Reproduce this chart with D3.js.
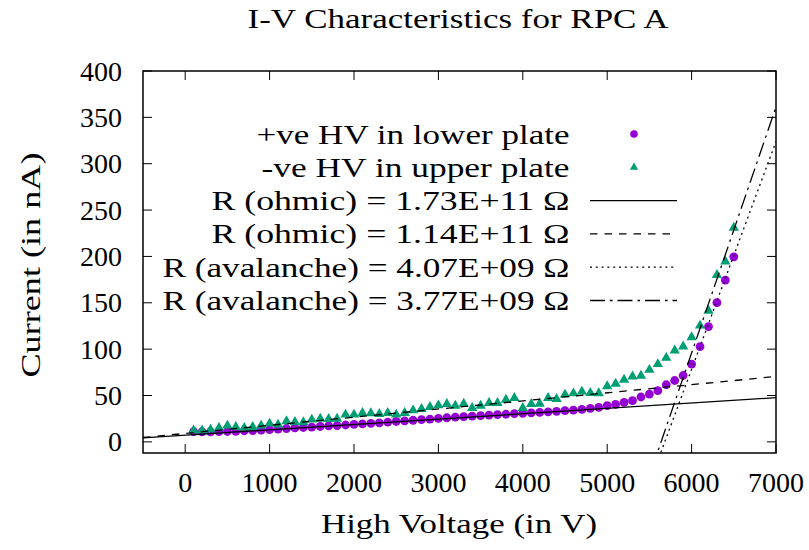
<!DOCTYPE html>
<html><head><meta charset="utf-8">
<script src="https://cdn.jsdelivr.net/npm/d3@7"></script>
<style>body{margin:0;background:#fff;}</style>
</head><body>
<svg id="chart" width="809" height="550"></svg>
<script>
// ---------- data ----------
const voltage = [100,200,300,400,500,600,700,800,900,1000,1100,1200,1300,1400,1500,1600,1700,1800,1900,2000,
  2100,2200,2300,2400,2500,2600,2700,2800,2900,3000,3100,3200,3300,3400,3500,3600,3700,3800,3900,4000,
  4100,4200,4300,4400,4500,4600,4700,4800,4900,5000,5100,5200,5300,5400,5500,5600,5700,5800,5900,6000,
  6100,6200,6300,6400,6500];
const posHVLower = [11.0,10.7,10.8,11.0,11.2,11.4,12.0,12.2,12.6,13.2,13.8,14.4,15.0,15.5,16.0,16.6,17.2,17.6,18.2,18.8,
  19.4,19.9,20.4,21.2,22.0,22.6,23.3,24.0,24.6,25.3,26.0,26.6,27.2,27.8,28.3,28.9,29.4,29.8,30.4,30.8,
  31.3,31.8,32.4,33.0,33.6,34.2,35.0,36.1,37.2,39.0,40.4,42.6,44.4,48.4,51.6,55.2,61.6,66.2,71.6,83.9,
  102.8,124.3,150.1,174.5,199.6];
const negHVUpper = [12.2,12.2,13.2,15.1,17.5,16.1,15.1,16.1,17.5,19.7,18.6,22.2,21.5,21.1,24.0,25.0,24.7,25.0,29.4,29.4,
  31.2,30.8,30.1,31.2,29.4,31.2,34.0,35.5,37.6,39.4,40.9,39.0,41.2,36.6,39.0,41.9,41.9,45.5,47.3,36.6,
  40.9,41.2,47.3,46.2,51.0,52.3,54.2,52.7,52.5,60.0,62.7,67.0,70.5,71.3,77.7,83.9,90.6,98.5,102.8,112.9,
  125.4,141.5,180.0,194.5,231.0];
const seriesLabels = ["+ve HV in lower plate", "-ve HV in upper plate"];
const fitLabels = ["R (ohmic) = 1.73E+11 Ω", "R (ohmic) = 1.14E+11 Ω",
                   "R (avalanche) = 4.07E+09 Ω", "R (avalanche) = 3.77E+09 Ω"];
const fitResistance = [1.73e11, 1.14e11, 4.07e9, 3.77e9];   // ohm
const fitIntercept = [7.2, 9.1, -1396, -1495.6];              // nA at 0 V
const xTicks = [0,1000,2000,3000,4000,5000,6000,7000];
const yTicks = [0,50,100,150,200,250,300,350,400];
const xDomain = [-500, 7000];
const yDomain = [-12, 400];
const titleText = "I-V Characteristics for RPC A";
const xLabel = "High Voltage (in V)";
const yLabel = "Current (in nA)";

// ---------- layout ----------
const L = 143, R = 776, T = 71, B = 453;
const FS = "28px";
const FONT = "'Liberation Serif'";
const svg = d3.select("#chart");
const x = d3.scaleLinear().domain(xDomain).range([L, R]);
const y = d3.scaleLinear().domain(yDomain).range([B, T]);
const purple = "#9400d3", green = "#009e73";
const dashes = [null, "7.5,7", "2,3.8", "15,5,2.5,5"];

function txt(sel) {
  return sel.style("font-family", FONT).style("font-size", FS).style("fill", "#000");
}

svg.append("defs").append("clipPath").attr("id","clip")
  .append("rect").attr("x",L).attr("y",T).attr("width",R-L).attr("height",B-T);

// ticks (inward, mirrored)
const tickLen = 9;
const tk = svg.append("g").attr("stroke","#000").attr("stroke-width",1);
yTicks.forEach(v => {
  tk.append("line").attr("x1",L).attr("x2",L+tickLen).attr("y1",y(v)).attr("y2",y(v));
  tk.append("line").attr("x1",R).attr("x2",R-tickLen).attr("y1",y(v)).attr("y2",y(v));
});
xTicks.forEach(v => {
  tk.append("line").attr("x1",x(v)).attr("x2",x(v)).attr("y1",B).attr("y2",B-tickLen);
  tk.append("line").attr("x1",x(v)).attr("x2",x(v)).attr("y1",T).attr("y2",T+tickLen);
});

// tick labels
txt(svg.append("g").selectAll("text").data(yTicks).join("text")
  .attr("x", 122).attr("y", d => y(d) + 9.5).attr("text-anchor","end")).text(d => d);
txt(svg.append("g").selectAll("text").data(xTicks).join("text")
  .attr("x", d => x(d)).attr("y", 492).attr("text-anchor","middle")).text(d => d);

// titles
txt(svg.append("text").attr("x", 458).attr("y", 28).attr("text-anchor","middle")
  .attr("textLength", 421).attr("lengthAdjust","spacingAndGlyphs")).text(titleText);
txt(svg.append("text").attr("x", 459).attr("y", 533).attr("text-anchor","middle")
  .attr("textLength", 276).attr("lengthAdjust","spacingAndGlyphs")).text(xLabel);
txt(svg.append("text").attr("transform","translate(40,265) rotate(-90)").attr("text-anchor","middle")
  .attr("textLength", 225).attr("lengthAdjust","spacingAndGlyphs")).text(yLabel);

// data points
const plot = svg.append("g").attr("clip-path","url(#clip)");
const tri = d3.symbol().type(d3.symbolTriangle).size(46);
plot.append("g").selectAll("circle").data(voltage).join("circle")
  .attr("cx", d => x(d)).attr("cy", (d,i) => y(posHVLower[i])).attr("r", 4.4).attr("fill", purple);
plot.append("g").selectAll("path").data(voltage).join("path")
  .attr("d", tri).attr("transform", (d,i) => `translate(${x(d)},${y(negHVUpper[i])})`).attr("fill", green);

// fit lines
const lineGen = d3.line().x(d => x(d[0])).y(d => y(d[1]));
fitResistance.forEach((r, i) => {
  const slope = 1e9 / r; // nA per V
  const pts = xDomain.map(v => [v, fitIntercept[i] + slope * v]);
  plot.append("path").attr("d", lineGen(pts)).attr("fill","none").attr("stroke","#000")
    .attr("stroke-width", 1.3).attr("stroke-dasharray", dashes[i]);
});

// border
svg.append("rect").attr("x",L).attr("y",T).attr("width",R-L).attr("height",B-T)
  .attr("fill","none").attr("stroke","#000").attr("stroke-width",1.5);

// legend
const legTextX = 569.5, legY0 = 134, legDY = 33.3;
const legWidths = [313, 308, 358, 358, 407, 407];
const allLabels = seriesLabels.concat(fitLabels);
const leg = svg.append("g");
allLabels.forEach((lab, i) => {
  const yy = legY0 + i * legDY;
  txt(leg.append("text").attr("x", legTextX).attr("y", yy + 9.5).attr("text-anchor","end")
    .attr("textLength", legWidths[i]).attr("lengthAdjust","spacingAndGlyphs")).text(lab);
  if (i === 0) {
    leg.append("circle").attr("cx", 634).attr("cy", yy).attr("r", 3.8).attr("fill", purple);
  } else if (i === 1) {
    leg.append("path").attr("d", d3.symbol().type(d3.symbolTriangle).size(30))
      .attr("transform", `translate(634,${yy})`).attr("fill", green);
  } else {
    leg.append("line").attr("x1", 590).attr("x2", 677).attr("y1", yy).attr("y2", yy)
      .attr("stroke","#000").attr("stroke-width",1.3).attr("stroke-dasharray", dashes[i-2]);
  }
});
</script>
</body></html>
